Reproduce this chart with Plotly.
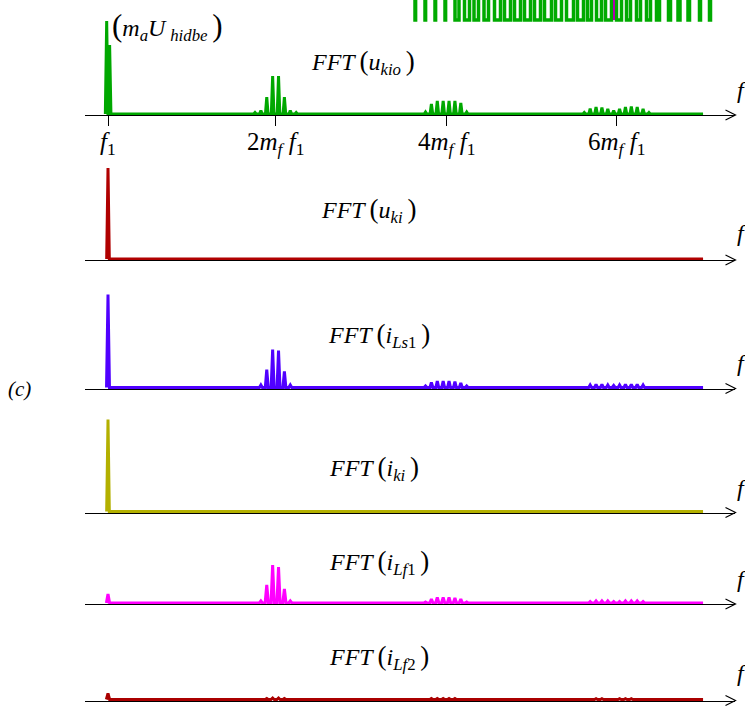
import plotly.graph_objects as go

# ---------------------------------------------------------------- data
MF = 29                                   # x axis = harmonic order of f1
tick_orders = [1, 2 * MF, 4 * MF, 6 * MF]
tick_labels = [
    "<i>f</i><sub>1</sub>",
    "2<i>m</i><sub><i>f</i></sub> <i>f</i><sub>1</sub>",
    "4<i>m</i><sub><i>f</i></sub> <i>f</i><sub>1</sub>",
    "6<i>m</i><sub><i>f</i></sub> <i>f</i><sub>1</sub>",
]
h_last = 203.4                            # last plotted harmonic order

# FFT(u_kio)
ukio_h = [0.55, 1.55, 51, 53, 55, 57, 59, 61, 63, 65,
          109, 111, 113, 115, 117, 119, 121, 123,
          163, 165, 167, 169, 171, 173, 175, 177, 179, 181, 183, 185]
ukio_a = [93, 69, 1.5, 3.5, 17, 38, 38, 17, 3.5, 1.5,
          2, 10, 13, 13, 13, 13, 11, 2,
          1.5, 5.5, 7, 6.5, 5, 3.5, 5, 7, 7.5, 7, 5, 1.5]
# FFT(u_ki)
uki_h = [1]
uki_a = [91]
# FFT(i_Ls1)
iLs1_h = [1, 53, 55, 57, 59, 61, 63,
          109, 111, 113, 115, 117, 119, 121, 123,
          165, 167, 169, 171, 173, 175, 177, 179, 181, 183]
iLs1_a = [93, 2.5, 18, 38, 37, 16, 2.5,
          1.5, 5, 6.5, 6.5, 6.5, 6, 4.5, 1.5,
          2.5, 3, 3, 2.5, 2, 2.5, 3, 3, 3, 2.5]
# FFT(i_ki)
iki_h = [1]
iki_a = [92]
# FFT(i_Lf1)
iLf1_h = [1, 53, 55, 57, 59, 61, 63,
          109, 111, 113, 115, 117, 119, 121, 123,
          165, 167, 169, 171, 173, 175, 177, 179, 181, 183]
iLf1_a = [9, 2, 18, 38, 36, 14, 2,
          1, 4, 5.5, 5.5, 5.5, 5, 4, 1,
          1.5, 2, 2, 2, 1.5, 1.5, 2, 2, 2, 1.5]
# FFT(i_Lf2)
iLf2_h = [1, 55, 57, 59, 61, 111, 113, 115, 117, 119, 167, 169, 175, 177, 179]
iLf2_a = [6, 1, 1.5, 1.5, 1, 1, 1, 1, 1, 1, 0.8, 0.8, 0.8, 0.8, 0.8]

# PWM waveform (cropped inset, top right): low-level intervals (time units)
pwm_low_start = [415, 425, 435, 445, 455, 464.5, 474, 484, 494.5, 504.5,
                 514.5, 524.5, 534.5, 544.5, 555.5, 566.5, 577.5, 587.5,
                 596.5, 605.5, 616.5, 626.5, 636.5, 646.5, 656.5, 668.5,
                 678, 688, 699.5, 709.5]
pwm_low_end = [415.6, 425.6, 435.6, 445.6, 459, 469.5, 478.5, 488.5, 500.5,
               510.5, 520.5, 530.5, 540.5, 551.5, 561.5, 573.5, 583.5,
               591.5, 601.5, 611.5, 621.5, 630.5, 640.5, 650.5, 659.5,
               670.5, 680, 689.5, 700.5, 710.5]
pwm_marker_t = 614

# ---------------------------------------------------------------- layout
W, H = 745, 707
SERIF = "Liberation Serif"
X0_PX, X1_PX = 85, 735          # axis line extent (px)
F1_PX, PX_PER_H = 108, 2.94     # pixel of f1, px per harmonic order
h_lo = 1 + (X0_PX - F1_PX) / PX_PER_H
h_hi = 1 + (X1_PX - F1_PX) / PX_PER_H

P = '&#8201;<span style="font-size:27px">'
Q = '<span style="font-size:27px">'
panels = [
    # h, a, colour, trace baseline px, spike half width, title, title x px, title y px, f y px
    (ukio_h, ukio_a, "#00a800", 114, 0.45,
     f"<i>FFT</i>{P}(</span><i>u</i><sub><i>kio</i></sub>&#8201;{Q})</span>", 309, 62, 90),
    (uki_h, uki_a, "#b00000", 259, 0.45,
     f"<i>FFT</i>{P}(</span><i>u</i><sub><i>ki</i></sub>&#8201;{Q})</span>", 319, 210, 233),
    (iLs1_h, iLs1_a, "#5000ff", 387.5, 0.5,
     f"<i>FFT</i>{P}(</span><i>i</i><sub><i>Ls</i>1</sub>&#8201;{Q})</span>", 326, 335, 363),
    (iki_h, iki_a, "#b3b000", 511.5, 0.45,
     f"<i>FFT</i>{P}(</span><i>i</i><sub><i>ki</i></sub>&#8201;{Q})</span>", 327, 468, 488),
    (iLf1_h, iLf1_a, "#ff00ff", 603, 0.55,
     f"<i>FFT</i>{P}(</span><i>i</i><sub><i>Lf</i>1</sub>&#8201;{Q})</span>", 327, 562, 579),
    (iLf2_h, iLf2_a, "#aa0000", 699.5, 0.55,
     f"<i>FFT</i>{P}(</span><i>i</i><sub><i>Lf</i>2</sub>&#8201;{Q})</span>", 327, 657, 673),
]

fig = go.Figure()
layout = dict(
    width=W, height=H, margin=dict(l=0, r=0, t=0, b=0, autoexpand=False),
    paper_bgcolor="white", plot_bgcolor="rgba(0,0,0,0)",
    showlegend=False, font=dict(family=SERIF, size=24, color="black"),
)
annotations = []
shapes = []

for i, (hs, am, col, base, w, title, tx, ty, fy) in enumerate(panels, start=1):
    xs, ys = [], []
    for hv, av in zip(hs, am):
        xs += [hv - w, hv, hv + w]
        ys += [0, av, 0]
    xs.append(h_last)
    ys.append(0)
    sfx = "" if i == 1 else str(i)
    fig.add_trace(go.Scatter(x=xs, y=ys, mode="lines",
                             line=dict(color=col, width=3),
                             xaxis="x" + sfx, yaxis="y" + sfx,
                             hoverinfo="skip"))
    ymin = -min(8, H - base - 0.5)
    ymax = min(100, base - 1)
    dom = [max(0.0, (H - (base - ymin)) / H), min(1.0, (H - (base - ymax)) / H)]
    layout["yaxis" + sfx] = dict(domain=dom, range=[ymin, ymax], visible=False,
                                 anchor="x" + sfx, fixedrange=True)
    axis_px = base + 1
    xa = dict(domain=[X0_PX / W, X1_PX / W], range=[h_lo, h_hi],
              anchor="free", position=(H - axis_px) / H,
              showline=True, linecolor="black", linewidth=1.3,
              showgrid=False, zeroline=False, showticklabels=False,
              ticks="", fixedrange=True, layer="above traces")
    if i == 1:
        xa.update(ticks="outside", ticklen=10, tickwidth=1, tickcolor="black",
                  tickvals=tick_orders)
        for tv, tt in zip(tick_orders, tick_labels):
            annotations.append(dict(text=tt, x=tv, xref="x", y=(H - 143) / H,
                                    yref="paper", xanchor="center",
                                    yanchor="middle", showarrow=False,
                                    font=dict(family=SERIF, size=25,
                                              color="black")))
    layout["xaxis" + sfx] = xa
    # open arrow head
    tip = X1_PX + 0.5
    shapes.append(dict(type="path", xref="paper", yref="paper",
                       path=f"M {(tip - 10) / W},{(H - axis_px - 5) / H} "
                            f"L {tip / W},{(H - axis_px) / H} "
                            f"L {(tip - 10) / W},{(H - axis_px + 5) / H}",
                       line=dict(color="black", width=1.2)))
    annotations.append(dict(text=title, x=tx / W, y=(H - ty) / H, xref="paper",
                            yref="paper", xanchor="left", yanchor="middle",
                            showarrow=False,
                            font=dict(family=SERIF, size=24, color="black")))
    annotations.append(dict(text="<i>f</i>", x=735 / W, y=(H - fy) / H,
                            xref="paper", yref="paper", xanchor="left",
                            yanchor="middle", showarrow=False,
                            font=dict(family=SERIF, size=24, color="black")))

annotations.append(dict(
    text='<span style="font-size:31px">(</span><i>m</i><sub><i>a</i></sub>'
         '<i>U</i>&#8201;<sub><i>hidbe</i></sub>&#8201;<span style="font-size:31px">)</span>',
    x=110 / W, y=(H - 27) / H, xref="paper", yref="paper",
    xanchor="left", yanchor="middle", showarrow=False,
    font=dict(family=SERIF, size=24, color="black")))
annotations.append(dict(text="<i>(c)</i>", x=6 / W, y=(H - 389) / H,
                        xref="paper", yref="paper", xanchor="left",
                        yanchor="middle", showarrow=False,
                        font=dict(family=SERIF, size=21, color="black")))

# PWM inset (cropped at the top edge)
px_, py_ = [400], [30]
for s, e in zip(pwm_low_start, pwm_low_end):
    px_ += [s, s, e, e]
    py_ += [30, 0, 0, 30]
px_.append(745)
py_.append(30)
fig.add_trace(go.Scatter(x=px_, y=py_, mode="lines",
                         line=dict(color="#00aa00", width=3.5),
                         xaxis="x7", yaxis="y7", hoverinfo="skip"))
fig.add_trace(go.Scatter(x=[pwm_marker_t, pwm_marker_t], y=[0, 30], mode="lines",
                         line=dict(color="#b000b0", width=2),
                         xaxis="x7", yaxis="y7", hoverinfo="skip"))
layout["xaxis7"] = dict(domain=[0, 1], range=[0, W], visible=False,
                        anchor="y7", fixedrange=True)
layout["yaxis7"] = dict(domain=[(H - 26) / H, 1], range=[-6, 20], visible=False,
                        anchor="x7", fixedrange=True)

layout["annotations"] = annotations
layout["shapes"] = shapes
fig.update_layout(**layout)
fig.write_html("out.html",
               config={"displayModeBar": False},
               post_script="document.body.style.margin='0px';"
                           "document.body.style.overflow='hidden';")
